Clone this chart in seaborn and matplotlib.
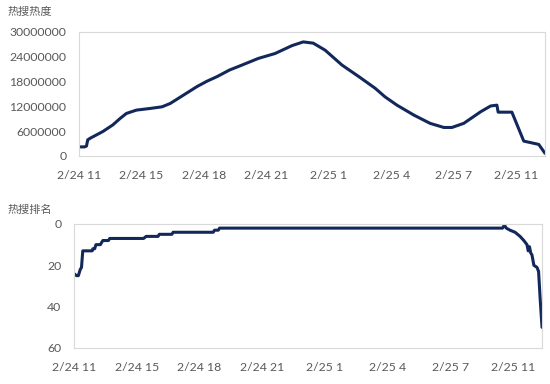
import matplotlib
matplotlib.use("Agg")
import matplotlib.pyplot as plt
import seaborn as sns
import pandas as pd

sns.set_theme(style="white")
plt.rcParams['font.family'] = ['Lato', 'Noto Sans CJK SC', 'DejaVu Sans']

# ---- data ----
tick_labels = ["2/24 11", "2/24 15", "2/24 18", "2/24 21", "2/25 1", "2/25 4", "2/25 7", "2/25 11"]
tick_positions = [0, 10, 20, 30, 40, 50, 60, 70]

heat_x = [0, 0.9, 1.2, 1.4, 1.8, 3.8, 5.4, 6.6, 7.6, 9.2, 11.4, 13.3, 14.6, 16.7, 18.9,
          20.5, 22.1, 24.1, 26.1, 28.7, 31.4, 34.1, 35.9, 37.5, 39.4, 42.1, 44.8, 47.4,
          49.0, 50.9, 53.6, 56.2, 58.4, 59.7, 61.6, 64.3, 65.9, 66.9, 67.1, 69.3, 71.2,
          73.6, 74.6]
heat_y = [2200000, 2200000, 2400000, 3900000, 4300000, 5900000, 7500000, 9100000, 10300000,
          11100000, 11500000, 11900000, 12700000, 14700000, 16800000, 18100000, 19200000,
          20800000, 22000000, 23600000, 24800000, 26700000, 27600000, 27300000, 25600000,
          22000000, 19200000, 16400000, 14300000, 12300000, 9900000, 7900000, 6900000,
          6900000, 7900000, 10700000, 12100000, 12300000, 10600000, 10600000, 3600000,
          2800000, 650000]

rank_x = [0, 0.4, 0.7, 1.0, 1.2, 1.4, 2.9, 3.0, 3.3, 3.5, 4.2, 4.4, 4.6, 5.5, 5.7, 11.1,
          11.5, 13.4, 13.6, 15.6, 15.8, 22.2, 22.4, 23.0, 23.2, 68.3, 68.5, 68.7, 68.9,
          69.5, 70.3, 71.1, 71.7, 72.2, 72.4, 72.6, 72.8, 73.0, 73.3, 73.8, 74.05, 74.3, 74.6]
rank_y = [24, 25, 25, 22, 21, 13, 13, 12, 12, 10, 10, 9, 8, 8, 7, 7,
          6, 6, 5, 5, 4, 4, 3, 3, 2, 2, 1, 1, 2,
          3, 4, 6, 8, 10, 13, 11, 14, 15, 20, 21, 23, 36, 50]

heat_ticks = [0, 6000000, 12000000, 18000000, 24000000, 30000000]
rank_ticks = [0, 20, 40, 60]

line_color = "#13285a"
grid_gray = "#d9d9d9"
text_gray = "#595959"

fig = plt.figure(figsize=(5.5, 3.84), dpi=100)
ax1 = fig.add_axes([0.1436, 0.5938, 0.8473, 0.3229])
ax2 = fig.add_axes([0.1345, 0.0938, 0.8510, 0.3229])

df_heat = pd.DataFrame({"x": heat_x, "y": heat_y})
df_rank = pd.DataFrame({"x": rank_x, "y": rank_y})

sns.lineplot(data=df_heat, x="x", y="y", ax=ax1, color=line_color, linewidth=2.2,
             estimator=None, sort=False)
sns.lineplot(data=df_rank, x="x", y="y", ax=ax2, color=line_color, linewidth=2.2,
             estimator=None, sort=False)

for ax in (ax1, ax2):
    ax.set_xlim(0, 74.6)
    ax.set_xticks(tick_positions)
    ax.set_xticklabels(tick_labels)
    ax.set_xlabel("")
    ax.set_ylabel("")
    for s in ax.spines.values():
        s.set_color(grid_gray)
        s.set_linewidth(0.8)
    ax.tick_params(axis='both', length=0, labelsize=8.8, colors=text_gray)
    ax.tick_params(axis='x', pad=10)
    ax.tick_params(axis='y', pad=9)

ax1.set_ylim(0, 30000000)
ax1.set_yticks(heat_ticks)
ax1.set_yticklabels([str(v) for v in heat_ticks])

ax2.set_ylim(60, 0)
ax2.set_yticks(rank_ticks)
ax2.set_yticklabels([str(v) for v in rank_ticks])

fig.text(8 / 550, 1 - 12 / 384, "热搜热度", fontsize=8, color=text_gray,
         family=['Noto Sans CJK SC', 'DejaVu Sans'], va='center', ha='left')
fig.text(8 / 550, 1 - 210 / 384, "热搜排名", fontsize=8, color=text_gray,
         family=['Noto Sans CJK SC', 'DejaVu Sans'], va='center', ha='left')

fig.savefig("out.png", dpi=100)
